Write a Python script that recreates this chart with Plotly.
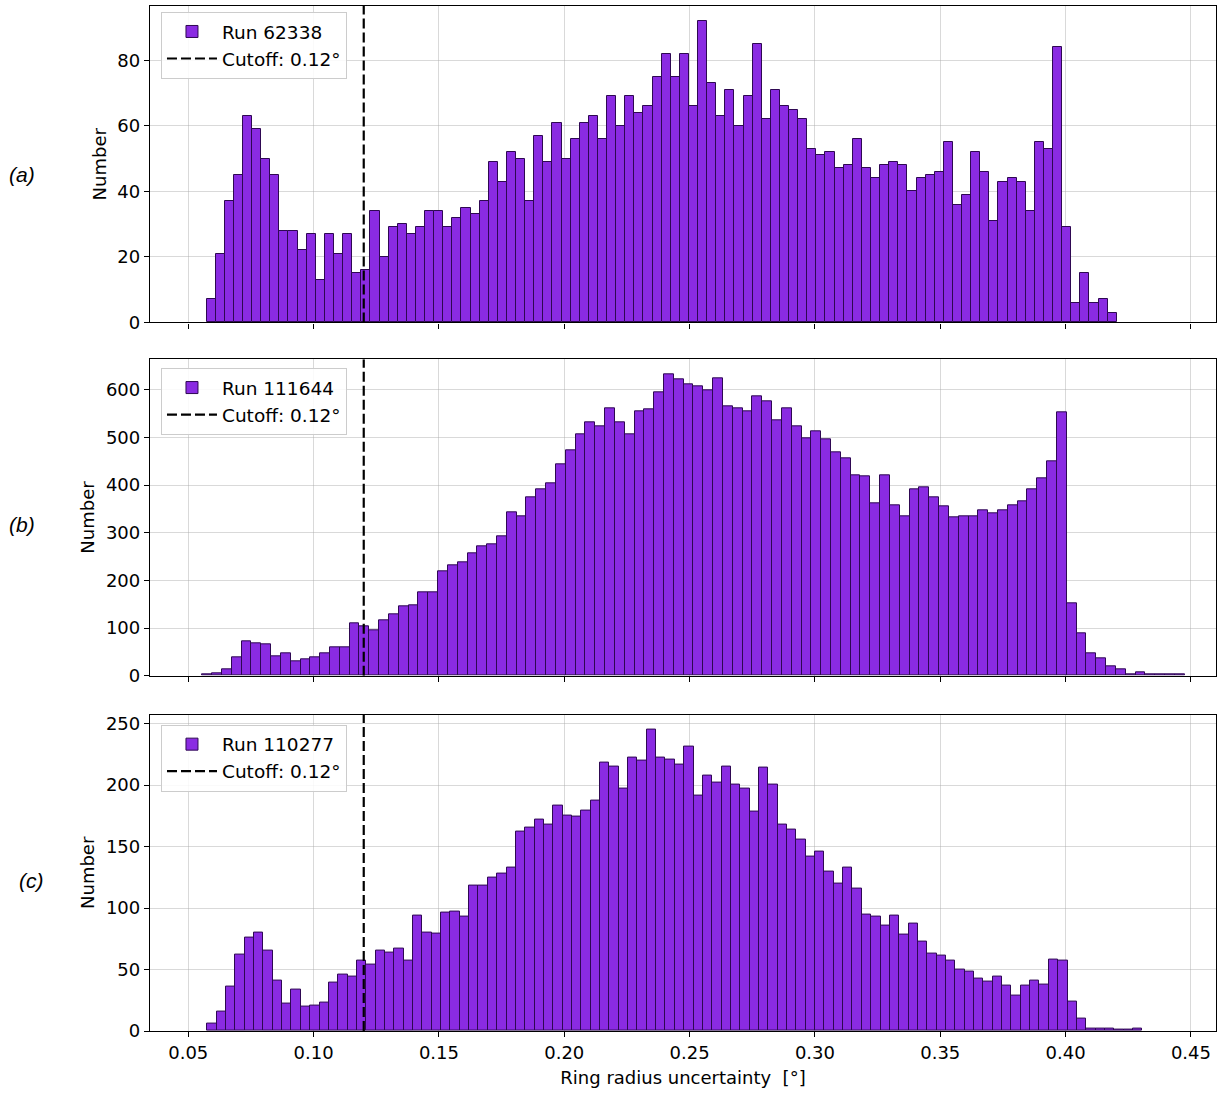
import numpy as np
import plotly.graph_objects as go

# ---------------- data ----------------
run_names = ["Run 62338", "Run 111644", "Run 110277"]
panel_labels = ["(a)", "(b)", "(c)"]
cutoff = 0.12

# histogram edges (min, max) per run, 100 bins each
edges_a = [0.0573, 0.4204]
edges_b = [0.0556, 0.4475]
edges_c = [0.0576, 0.4306]

counts_a = [7, 21, 37, 45, 63, 59, 50, 45, 28, 28,
            22, 27, 13, 27, 21, 27, 15, 16, 34, 20,
            29, 30, 27, 29, 34, 34, 29, 32, 35, 33,
            37, 49, 43, 52, 50, 37, 57, 49, 61, 50,
            56, 61, 63, 56, 69, 60, 69, 64, 66, 75,
            82, 75, 82, 66, 92, 73, 63, 71, 60, 69,
            85, 62, 71, 66, 65, 62, 53, 51, 52, 47,
            48, 56, 47, 44, 48, 49, 48, 40, 44, 45,
            46, 55, 36, 39, 52, 46, 31, 43, 44, 43,
            34, 55, 53, 84, 29, 6, 15, 6, 7, 3]

counts_b = [2, 6, 13, 39, 72, 69, 66, 41, 48, 30,
            34, 39, 46, 59, 59, 110, 104, 96, 117, 128,
            145, 148, 174, 174, 220, 231, 238, 257, 272, 275,
            292, 343, 334, 375, 392, 403, 444, 472, 507, 532,
            523, 561, 532, 507, 555, 558, 595, 632, 621, 612,
            607, 598, 624, 564, 561, 555, 587, 575, 535, 561,
            523, 498, 512, 495, 469, 455, 421, 418, 361, 421,
            357, 335, 390, 395, 375, 355, 332, 334, 334, 346,
            341, 346, 357, 366, 390, 415, 450, 553, 151, 90,
            48, 37, 20, 13, 3, 8, 3, 3, 3, 3]

counts_c = [6, 16, 36, 62, 76, 80, 65, 41, 22, 34,
            20, 21, 23, 39, 46, 44, 57, 54, 65, 64,
            67, 57, 94, 80, 79, 96, 97, 93, 118, 118,
            125, 128, 133, 162, 165, 172, 168, 183, 175, 174,
            179, 187, 218, 215, 197, 222, 220, 245, 222, 221,
            217, 231, 191, 208, 202, 215, 200, 197, 178, 214,
            200, 168, 164, 156, 142, 146, 130, 120, 133, 116,
            95, 93, 86, 94, 78, 87, 73, 63, 61, 57,
            50, 48, 43, 40, 44, 37, 29, 37, 41, 38,
            58, 57, 24, 10, 2, 2, 2, 1, 1, 2]

x_ticks = [0.05, 0.10, 0.15, 0.20, 0.25, 0.30, 0.35, 0.40, 0.45]
y_ticks_a = [0, 20, 40, 60, 80]
y_ticks_b = [0, 100, 200, 300, 400, 500, 600]
y_ticks_c = [0, 50, 100, 150, 200, 250]
x_title = "Ring radius uncertainty  [°]"
y_title = "Number"

# ---------------- style ----------------
FONT = "DejaVu Sans"
FILL = "#8a2be2"
EDGE = "#2e0852"
GRID = "rgba(170,170,170,0.45)"
x_range = [0.03473, 0.4600]

domains = [[0.6913, 1.0], [0.3466, 0.6553], [0.0, 0.3087]]
legend_y = [0.9942, 0.6468, 0.2989]
label_pos = [(-0.12, 0.8354), (-0.12, 0.4937), (-0.1115, 0.147)]

fig = go.Figure()
panels = [(edges_a, counts_a, y_ticks_a), (edges_b, counts_b, y_ticks_b), (edges_c, counts_c, y_ticks_c)]

layout = dict(
    width=1221, height=1093,
    margin=dict(l=150, r=4, t=4, b=62),
    paper_bgcolor="white", plot_bgcolor="white",
    font=dict(family=FONT, size=18, color="black"),
    bargap=0, showlegend=True,
)

annotations = []
for i, (edges, counts, yt) in enumerate(panels):
    n = len(counts)
    e = np.linspace(edges[0], edges[1], n + 1)
    centers = 0.5 * (e[:-1] + e[1:])
    width = e[1] - e[0]
    sfx = "" if i == 0 else str(i + 1)
    leg = "legend" if i == 0 else "legend" + str(i + 1)
    ymax = max(counts) * 1.05
    fig.add_trace(go.Bar(
        x=centers, y=counts, width=width,
        marker=dict(color=FILL, line=dict(color=EDGE, width=1)),
        name=run_names[i], xaxis="x" + sfx, yaxis="y" + sfx, legend=leg,
    ))
    fig.add_trace(go.Scatter(
        x=[cutoff, cutoff], y=[0, ymax], mode="lines",
        line=dict(color="black", width=2.2, dash="10px,4px"),
        name="Cutoff: 0.12°", xaxis="x" + sfx, yaxis="y" + sfx, legend=leg,
    ))
    layout["xaxis" + sfx] = dict(
        domain=[0, 1], range=x_range, anchor="y" + sfx,
        tickvals=x_ticks, tickformat=".2f",
        showticklabels=(i == 2),
        ticks="outside", ticklen=5, tickwidth=1.2, tickcolor="black",
        showgrid=True, gridcolor=GRID, gridwidth=1,
        showline=True, linecolor="black", linewidth=1.3, mirror=True,
        zeroline=False, layer="above traces",
        tickfont=dict(size=18),
        title=dict(text=x_title if i == 2 else "", standoff=9, font=dict(size=18)),
    )
    if i < 2:
        layout["xaxis" + sfx]["matches"] = "x3"
    layout["yaxis" + sfx] = dict(
        domain=domains[i], range=[0, ymax], anchor="x" + sfx,
        tickvals=yt,
        ticks="outside", ticklen=5, tickwidth=1.2, tickcolor="black",
        showgrid=True, gridcolor=GRID, gridwidth=1,
        showline=True, linecolor="black", linewidth=1.3, mirror=True,
        zeroline=False, layer="above traces",
        tickfont=dict(size=18),
        title=dict(text=y_title, standoff=6, font=dict(size=18)),
    )
    layout[leg] = dict(
        x=0.0103, y=legend_y[i], xanchor="left", yanchor="top",
        bgcolor="rgba(255,255,255,0.85)", bordercolor="#cccccc", borderwidth=1,
        font=dict(size=18.5), itemwidth=50, traceorder="normal",
    )
    annotations.append(dict(
        text="<i>" + panel_labels[i] + "</i>", xref="paper", yref="paper",
        x=label_pos[i][0], y=label_pos[i][1], xanchor="center", yanchor="middle",
        showarrow=False, font=dict(family="Liberation Sans", size=21, color="black"),
    ))

layout["annotations"] = annotations
fig.update_layout(**layout)
fig.write_html("out.html")
